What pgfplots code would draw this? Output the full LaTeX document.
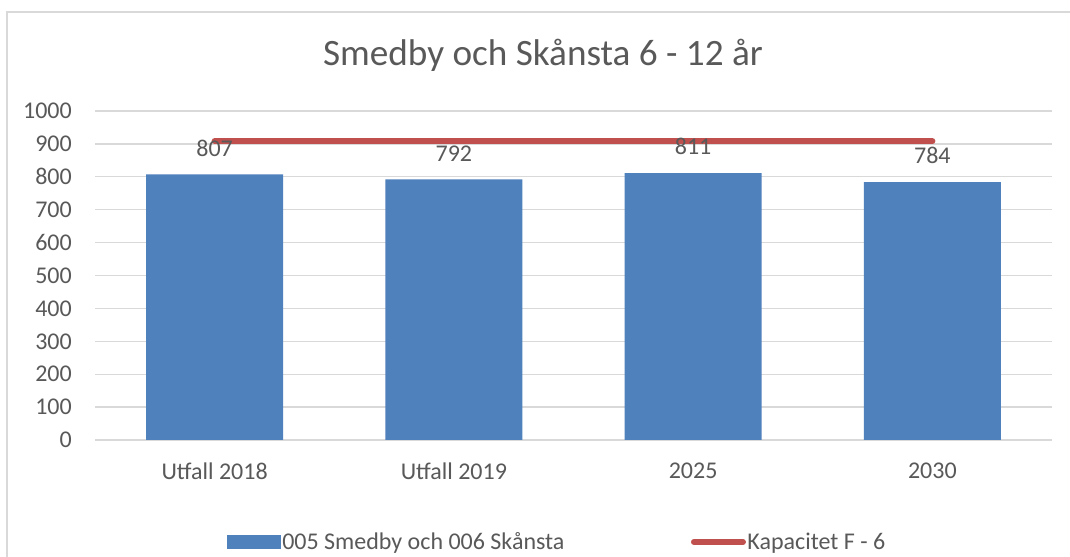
\documentclass[border=0pt]{standalone}
\usepackage{pgfplots}
\pgfplotsset{compat=1.18}
\usepackage{fontspec}
\setmainfont{Carlito}
\definecolor{txt}{HTML}{595959}
\definecolor{barblue}{HTML}{4F81BD}
\definecolor{capred}{HTML}{C0504D}
\definecolor{gridc}{HTML}{D9D9D9}
\definecolor{framec}{HTML}{D9D9D9}
\begin{document}
\begin{tikzpicture}
\useasboundingbox (0,0) rectangle (1070bp,557bp);
\fill[white] (0,0) rectangle (1070bp,557bp);
\draw[framec, line width=2bp] (7bp,0bp) -- (7bp,545bp) -- (1070bp,545bp);
\node[anchor=base, text=txt, font=\fontsize{37.2bp}{42bp}\selectfont, inner sep=0pt] at (543bp,491.3bp) {Smedby och Skånsta 6 - 12 år};
\begin{axis}[
  scale only axis,
  width=957bp, height=329bp,
  at={(95bp,117bp)}, anchor=south west,
  xmin=-0.5, xmax=3.5,
  ymin=0, ymax=1000,
  ytick={0,100,...,1000},
  xtick=data,
  xticklabels={Utfall 2018, Utfall 2019, 2025, 2030},
  axis line style={draw=none},
  major tick length=0pt,
  ymajorgrids,
  grid style={gridc, line width=1.3bp},
  tick label style={text=txt, font=\fontsize{24bp}{28bp}\selectfont, inner sep=0pt},
  xticklabel style={yshift=-23bp},
  yticklabel style={xshift=-23bp},
  /pgf/number format/assume math mode=true,
  /pgf/number format/1000 sep={},
  legend style={at={(0.4825,-0.310)}, anchor=center, draw=none, fill=none,
    legend columns=2, font=\fontsize{24bp}{28bp}\selectfont, text=txt,
    nodes={inner sep=1.5bp},
    /tikz/every even column/.append style={column sep=125bp}},
  legend cell align=left,
]
\addplot[ybar, bar width=137bp, fill=barblue, draw=none,
  nodes near coords,
  every node near coord/.append style={text=txt, font=\fontsize{24bp}{28bp}\selectfont, inner sep=0pt, anchor=south, yshift=18bp},
  legend image code/.code={\fill[barblue] (0bp,-7bp) rectangle (54bp,7bp);}]
  coordinates {(0,807) (1,792) (2,811) (3,784)};
\addlegendentry{005 Smedby och 006 Skånsta}
\addplot[capred, line width=6bp, line cap=round, mark=none,
  legend image code/.code={\draw[capred, line width=6bp, line cap=round] (3bp,0bp) -- (52bp,0bp);}]
  coordinates {(0,908) (1,908) (2,908) (3,908)};
\addlegendentry{Kapacitet F - 6}
\end{axis}
\end{tikzpicture}
\end{document}
